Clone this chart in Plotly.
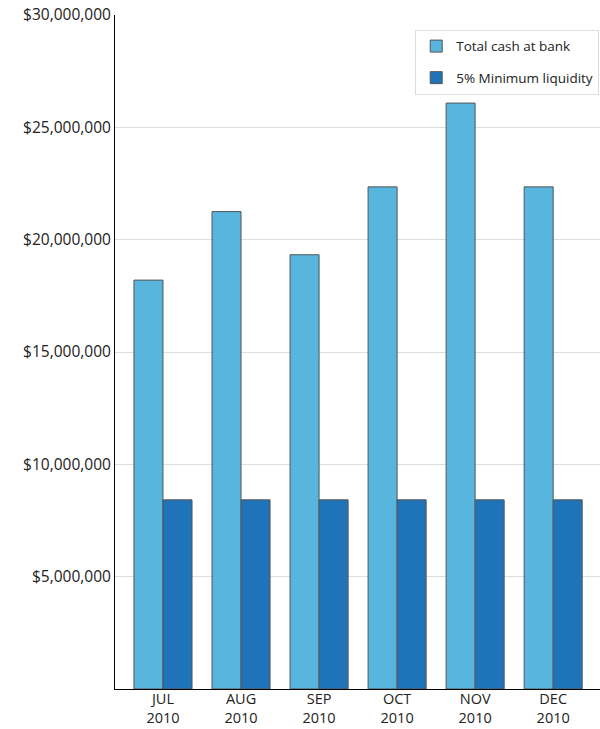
import plotly.graph_objects as go

months = ["JUL<br>2010", "AUG<br>2010", "SEP<br>2010", "OCT<br>2010", "NOV<br>2010", "DEC<br>2010"]
total_cash = [18200000, 21250000, 19330000, 22350000, 26080000, 22350000]
min_liquidity = [8420000, 8420000, 8420000, 8420000, 8420000, 8420000]
ytick_vals = [5000000, 10000000, 15000000, 20000000, 25000000, 30000000]
ytick_text = ["$5,000,000", "$10,000,000", "$15,000,000", "$20,000,000", "$25,000,000", "$30,000,000"]

xpos = list(range(len(months)))

fig = go.Figure()
fig.add_trace(go.Bar(x=xpos, y=total_cash, name="Total cash at bank", legendgroup="a",
                     marker=dict(color="#58B6DE", line=dict(color="#555555", width=1))))
fig.add_trace(go.Bar(x=xpos, y=min_liquidity, name="5% Minimum liquidity", legendgroup="b",
                     marker=dict(color="#1F74B9", line=dict(color="#555555", width=1))))

fig.update_layout(
    width=600, height=729,
    margin=dict(l=115, r=0, t=15, b=40),
    barmode="group", bargap=0.256, bargroupgap=0,
    plot_bgcolor="white", paper_bgcolor="white",
    font=dict(family="Open Sans, sans-serif", color="#222222", size=15),
    xaxis=dict(tickvals=xpos, ticktext=months, range=[-0.615, 5.6],
               showgrid=False, showline=True, linecolor="black", linewidth=1,
               ticks="", tickfont=dict(size=14.5), automargin=False,
               ticklabelstandoff=-3),
    yaxis=dict(range=[0, 30000000], tickvals=ytick_vals, ticktext=ytick_text,
               showgrid=True, gridcolor="#DDDDDD", gridwidth=1,
               showline=True, linecolor="black", linewidth=1,
               zeroline=False, ticks="", ticklen=0, tickfont=dict(size=15.5),
               automargin=False),
    legend=dict(x=0.619, y=0.978, xanchor="left", yanchor="top",
                bordercolor="#DDDDDD", borderwidth=1, bgcolor="white",
                font=dict(size=13.5), traceorder="grouped", tracegroupgap=11),
    showlegend=True,
)

fig.write_html("out.html")
